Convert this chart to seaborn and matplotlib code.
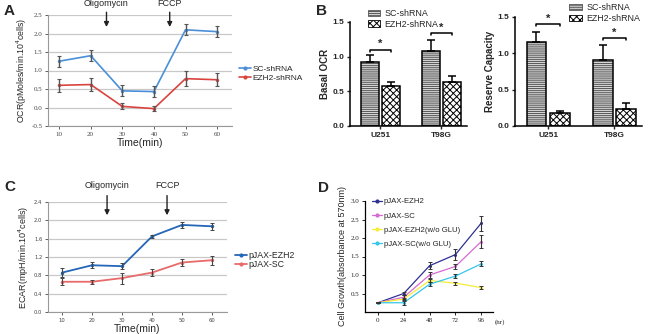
import numpy as np
import pandas as pd
import matplotlib.pyplot as plt
import seaborn as sns
from matplotlib.patches import Patch, Rectangle
from matplotlib.lines import Line2D

# Panel A - OCR
time_min = [10, 20, 30, 40, 50, 60]
ocr_sc = [1.25, 1.40, 0.45, 0.43, 2.10, 2.05]
ocr_sc_err = [0.15, 0.15, 0.15, 0.15, 0.15, 0.15]
ocr_ezh2 = [0.60, 0.62, 0.03, -0.03, 0.78, 0.75]
ocr_ezh2_err = [0.17, 0.17, 0.08, 0.07, 0.20, 0.18]

# Panel B - bars
cells = ["U251", "T98G"]
groups_b = ["SC-shRNA", "EZH2-shRNA"]
basal_sc = [0.92, 1.08]
basal_sc_err = [0.10, 0.16]
basal_ezh2 = [0.58, 0.64]
basal_ezh2_err = [0.06, 0.08]
reserve_sc = [1.15, 0.91]
reserve_sc_err = [0.15, 0.21]
reserve_ezh2 = [0.18, 0.23]
reserve_ezh2_err = [0.03, 0.09]

# Panel C - ECAR
ecar_ezh2 = [0.86, 1.02, 1.00, 1.65, 1.90, 1.87]
ecar_ezh2_err = [0.09, 0.07, 0.07, 0.04, 0.06, 0.08]
ecar_sc = [0.66, 0.66, 0.74, 0.86, 1.08, 1.13]
ecar_sc_err = [0.08, 0.04, 0.12, 0.07, 0.08, 0.10]

# Panel D - cell growth
hours = [0, 24, 48, 72, 96]
growth_names = ["pJAX-EZH2", "pJAX-SC", "pJAX-EZH2(w/o GLU)", "pJAX-SC(w/o GLU)"]
growth_ezh2 = [0.25, 0.50, 1.25, 1.55, 2.40]
growth_ezh2_err = [0.02, 0.05, 0.10, 0.15, 0.20]
growth_sc = [0.25, 0.40, 1.00, 1.23, 1.90]
growth_sc_err = [0.02, 0.05, 0.08, 0.08, 0.18]
growth_ezh2_noglu = [0.25, 0.35, 0.85, 0.78, 0.66]
growth_ezh2_noglu_err = [0.02, 0.03, 0.05, 0.04, 0.03]
growth_sc_noglu = [0.25, 0.25, 0.75, 0.97, 1.30]
growth_sc_noglu_err = [0.02, 0.05, 0.05, 0.05, 0.07]

sns.set_style("white")
plt.rcParams['font.family'] = ['Liberation Sans', 'DejaVu Sans']
plt.rcParams['hatch.linewidth'] = 0.7

W, H = 650, 334
fig = plt.figure(figsize=(W / 100, H / 100), dpi=100)


def px_axes(x0, y0, x1, y1):
    return fig.add_axes([x0 / W, 1 - y1 / H, (x1 - x0) / W, (y1 - y0) / H])


def seahorse_axes(ax, ticks, fam, tsize):
    ax.set_yticks(ticks)
    ax.set_xticks(time_min)
    ax.yaxis.grid(True, color='#c8c8c8', lw=0.9)
    ax.xaxis.grid(False)
    for s in ['top', 'right']:
        ax.spines[s].set_visible(False)
    for s in ['left', 'bottom']:
        ax.spines[s].set_color('#999999')
        ax.spines[s].set_linewidth(0.8)
    ax.tick_params(axis='both', labelsize=tsize, colors='#444444', length=2,
                   width=0.6, direction='out', left=True, bottom=True, pad=2)
    for lab in ax.get_xticklabels() + ax.get_yticklabels():
        lab.set_family(fam)
    ax.set_xlabel('Time(min)', fontsize=7.5, labelpad=1)


def arrows(ax, ytop, ybot, ytext):
    for xx, lab in [(25, 'Oligomycin'), (45, 'FCCP')]:
        ax.annotate('', xy=(xx, ybot), xytext=(xx, ytop),
                    arrowprops=dict(arrowstyle='-|>', color='#222222', lw=1.0,
                                    mutation_scale=7),
                    annotation_clip=False)
        ax.text(xx, ytext, lab, ha='center', va='center', fontsize=6.5,
                clip_on=False)


# ---------- A ----------
axA = px_axes(48, 15, 232, 126)
dfA = pd.DataFrame({'t': time_min * 2, 'v': ocr_sc + ocr_ezh2,
                    'g': ['SC-shRNA'] * 6 + ['EZH2-shRNA'] * 6})
colA = {'SC-shRNA': '#4a8fd8', 'EZH2-shRNA': '#d9443f'}
sns.lineplot(data=dfA, x='t', y='v', hue='g', palette=colA, marker='o',
             markersize=2.5, markeredgewidth=0, lw=1.2, ax=axA, legend=False)
axA.errorbar(time_min, ocr_sc, yerr=ocr_sc_err, fmt='none', ecolor='#555555',
             elinewidth=1.0, capsize=1.5, capthick=0.8)
axA.errorbar(time_min, ocr_ezh2, yerr=ocr_ezh2_err, fmt='none', ecolor='#555555',
             elinewidth=1.0, capsize=1.5, capthick=0.8)
axA.set_xlim(6.5, 64.7)
axA.set_ylim(-0.5, 2.5)
seahorse_axes(axA, [-0.5, 0, 0.5, 1.0, 1.5, 2.0, 2.5], 'Liberation Serif', 5)
axA.set_yticklabels(['-0.5', '0.0', '0.5', '1.0', '1.5', '2.0', '2.5'])
axA.set_ylabel('OCR(pMoles/min.10$^4$cells)', fontsize=6.3, labelpad=2)
arrows(axA, 2.65, 2.1, 2.8)
axA.legend(handles=[Line2D([], [], color=colA[k], marker='o', ms=2, lw=1.2, label=k)
                    for k in colA],
           loc='center left', bbox_to_anchor=(1.0, 0.47), frameon=False,
           fontsize=6, handlelength=1.4, handletextpad=0.2, labelspacing=0.1)
fig.text(4 / W, 1 - 11 / H, 'A', fontsize=11, fontweight='bold', va='center')


# ---------- B ----------
def bar_panel(ax, sc, sc_err, ez, ez_err, ylabel, brackets, legend_anchor):
    df = pd.DataFrame({'cell': cells * 2, 'v': sc + ez,
                       'g': [groups_b[0]] * 2 + [groups_b[1]] * 2})
    faces = ['#d6d6d6', 'white']
    sns.barplot(data=df, x='cell', y='v', hue='g', hue_order=groups_b,
                width=0.7, gap=0.14, palette=faces,
                linewidth=0, errorbar=None, legend=False, ax=ax)
    hatches = ['--------', 'xxxxx']
    hatch_cols = ['#555555', 'black']
    errs = [sc_err, ez_err]
    centers = []
    for cont, hatch, hc, err in zip(ax.containers, hatches, hatch_cols, errs):
        xs = []
        for p in cont:
            p.set_hatch(hatch)
            p.set_edgecolor(hc)
            ax.add_patch(Rectangle(p.get_xy(), p.get_width(), p.get_height(),
                                   fill=False, ec='black', lw=1.1, zorder=3))
            xs.append(p.get_x() + p.get_width() / 2)
        ys = [p.get_height() for p in cont]
        ax.errorbar(xs, ys, yerr=[[0] * len(err), err], fmt='none',
                    ecolor='black', elinewidth=1.1, capsize=3, capthick=1.1)
        centers.append(xs)
    for i, yb in enumerate(brackets):
        x1, x2 = centers[0][i], centers[1][i]
        ax.plot([x1, x1, x2, x2], [yb - 0.03, yb, yb, yb - 0.03], color='black', lw=1.1)
        ax.text((x1 + x2) / 2, yb + 0.01, '*', ha='center', va='bottom',
                fontsize=8, fontweight='bold')
    ax.set_xlim(-0.5, 1.42)
    ax.set_ylim(0, 1.5)
    ax.set_yticks([0, 0.5, 1.0, 1.5])
    ax.set_yticklabels(['0.0', '0.5', '1.0', '1.5'])
    ax.set_xlabel('')
    ax.set_ylabel(ylabel, fontsize=7, fontweight='bold', labelpad=2)
    for s in ['top', 'right']:
        ax.spines[s].set_visible(False)
    for s in ['left', 'bottom']:
        ax.spines[s].set_color('black')
        ax.spines[s].set_linewidth(1.1)
    ax.tick_params(axis='both', labelsize=6, length=2.5, width=1, left=True,
                   bottom=True, pad=1.5)
    for lab in ax.get_xticklabels() + ax.get_yticklabels():
        lab.set_fontweight('bold')
    ax.legend(handles=[Patch(facecolor=c, edgecolor=hc, hatch=h, lw=0.6, label=g)
                       for c, hc, h, g in zip(faces, hatch_cols, hatches, groups_b)],
              loc='upper left', bbox_to_anchor=legend_anchor, frameon=False,
              fontsize=6.4, handlelength=1.4, handleheight=0.7,
              handletextpad=0.5, labelspacing=0.2, borderaxespad=0)


axB1 = px_axes(350, 22, 467, 126)
bar_panel(axB1, basal_sc, basal_sc_err, basal_ezh2, basal_ezh2_err, 'Basal OCR',
          [1.10, 1.34], (0.12, 1.16))
axB2 = px_axes(515, 17, 642, 126)
bar_panel(axB2, reserve_sc, reserve_sc_err, reserve_ezh2, reserve_ezh2_err,
          'Reserve Capacity', [1.40, 1.21], (0.40, 1.16))
fig.text(316 / W, 1 - 11 / H, 'B', fontsize=11, fontweight='bold', va='center')

# ---------- C ----------
axC = px_axes(48, 202, 227, 312)
dfC = pd.DataFrame({'t': time_min * 2, 'v': ecar_ezh2 + ecar_sc,
                    'g': ['pJAX-EZH2'] * 6 + ['pJAX-SC'] * 6})
colC = {'pJAX-EZH2': '#2466b8', 'pJAX-SC': '#e86a6a'}
sns.lineplot(data=dfC, x='t', y='v', hue='g', palette=colC, marker='o',
             markersize=2.5, markeredgewidth=0, lw=1.3, ax=axC, legend=False)
axC.errorbar(time_min, ecar_ezh2, yerr=ecar_ezh2_err, fmt='none', ecolor='#444444',
             elinewidth=0.8, capsize=1.3, capthick=0.7)
axC.errorbar(time_min, ecar_sc, yerr=ecar_sc_err, fmt='none', ecolor='#444444',
             elinewidth=0.8, capsize=1.3, capthick=0.7)
axC.set_xlim(5.3, 65)
axC.set_ylim(0, 2.4)
seahorse_axes(axC, [0, 0.4, 0.8, 1.2, 1.6, 2.0, 2.4], 'DejaVu Sans', 3.8)
axC.set_yticklabels(['0.0', '0.4', '0.8', '1.2', '1.6', '2.0', '2.4'])
axC.set_ylabel('ECAR(mpH/min.10$^4$cells)', fontsize=6.5, labelpad=2)
arrows(axC, 2.6, 2.05, 2.75)
axC.legend(handles=[Line2D([], [], color=colC[k], marker='o', ms=2, lw=1.3, label=k)
                    for k in colC],
           loc='center left', bbox_to_anchor=(1.0, 0.47), frameon=False,
           fontsize=6.3, handlelength=1.4, handletextpad=0.2, labelspacing=0.0)
fig.text(4 / W, 1 - 187 / H, 'C', fontsize=11, fontweight='bold', va='center')

# ---------- D ----------
axD = px_axes(365, 201, 493, 312)
growth_vals = [growth_ezh2, growth_sc, growth_ezh2_noglu, growth_sc_noglu]
growth_errs = [growth_ezh2_err, growth_sc_err, growth_ezh2_noglu_err, growth_sc_noglu_err]
colD = ['#2e3192', '#d66ad0', '#f5ec3a', '#35c6ea']
dfD = pd.DataFrame({'h': hours * 4,
                    'v': sum(growth_vals, []),
                    'g': sum([[n] * 5 for n in growth_names], [])})
sns.lineplot(data=dfD, x='h', y='v', hue='g', hue_order=growth_names, palette=colD,
             marker='o', markersize=2.2, markeredgewidth=0, lw=0.9, ax=axD, legend=False)
for vals, errs in zip(growth_vals, growth_errs):
    axD.errorbar(hours, vals, yerr=errs, fmt='none', ecolor='#333333',
                 elinewidth=0.8, capsize=1.5, capthick=0.7)
axD.set_xlim(-12, 107)
axD.set_ylim(0, 3.0)
axD.set_xticks(hours)
axD.set_yticks([0.5, 1.0, 1.5, 2.0, 2.5, 3.0])
axD.set_yticklabels(['0.5', '1.0', '1.5', '2.0', '2.5', '3.0'])
for s in ['top', 'right']:
    axD.spines[s].set_visible(False)
for s in ['left', 'bottom']:
    axD.spines[s].set_linewidth(0.9)
    axD.spines[s].set_color('black')
axD.tick_params(axis='both', labelsize=5, length=2, width=0.7, left=True,
                bottom=True, pad=2)
for lab in axD.get_xticklabels() + axD.get_yticklabels():
    lab.set_family('Liberation Serif')
axD.set_xlabel('')
axD.text(1.01, -0.09, '(hr)', transform=axD.transAxes, fontsize=5,
         family='Liberation Serif', va='center')
axD.set_ylabel('Cell Growth(absorbance at 570nm)', fontsize=6.5, labelpad=3)
axD.legend(handles=[Line2D([], [], color=c, marker='o', ms=2, lw=0.9, label=n)
                    for c, n in zip(colD, growth_names)],
           loc='upper left', bbox_to_anchor=(0.0, 1.09), frameon=False,
           fontsize=5.6, handlelength=1.3, handletextpad=0.2, labelspacing=0.85)
fig.text(318 / W, 1 - 188 / H, 'D', fontsize=11, fontweight='bold', va='center')

fig.savefig('out.png', dpi=100)
